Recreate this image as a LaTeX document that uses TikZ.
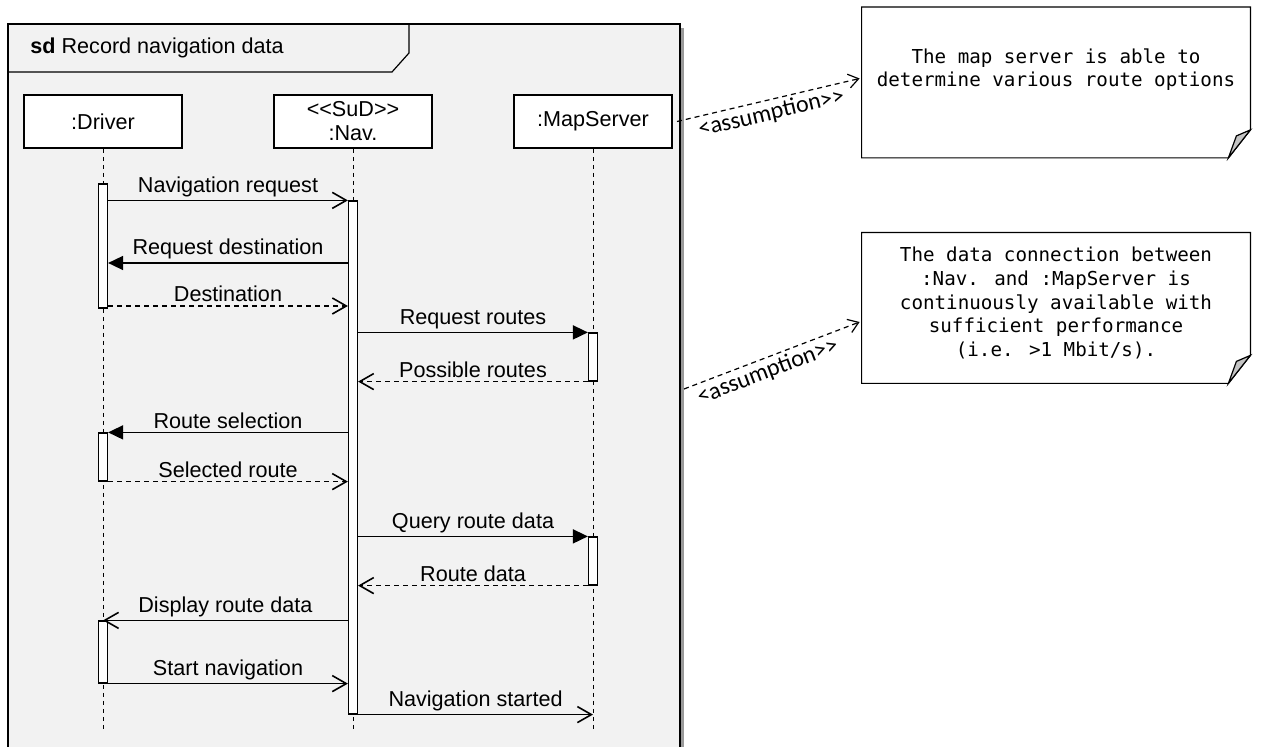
\documentclass[tikz,border=0pt]{standalone}
\usepackage{fontspec}
\setmainfont{Liberation Sans}
\newfontfamily\notefont{DejaVu Sans Mono}
\newfontfamily\stereofont{Carlito}
\usetikzlibrary{positioning, arrows.meta, calc}

\definecolor{framegray}{HTML}{F2F2F2}
\definecolor{foldgray}{HTML}{C4C4C4}
\definecolor{shadowgray}{HTML}{9A9A9A}

\begin{document}
\begin{tikzpicture}[x=0.5pt, y=-0.5pt,
        lifebox/.style={draw=black, line width=1pt, fill=white, minimum width=79pt, minimum height=26.5pt, inner sep=0pt, align=center, font=\fontsize{10.8}{12}\selectfont},
        lifeline/.style={line width=0.5pt, dash pattern=on 2pt off 2pt},
        act/.style={draw=black, line width=0.6pt, fill=white, minimum width=4.5pt, inner sep=0pt},
        msg/.style={line width=0.8pt, -{Straight Barb[length=7pt, width=8pt]}},
        call/.style={line width=0.8pt, -{Triangle[length=7.5pt, width=7pt]}},
        reply/.style={msg, dash pattern=on 2.5pt off 2pt},
        msglabel/.style={midway, above, inner sep=1.5pt, font=\fontsize{10.8}{12}\selectfont},
        notebox/.style={minimum width=194pt, minimum height=75pt, inner sep=0pt},
        notetext/.style={align=center, font=\notefont\fontsize{9.6}{11.8}\selectfont},
        noteline/.style={draw=black, line width=0.6pt, fill=white},
        depend/.style={line width=0.6pt, dash pattern=on 2.5pt off 2pt, -{Straight Barb[length=5pt, width=7pt]}},
        stereo/.style={sloped, below, inner sep=1.5pt, font=\stereofont\fontsize{12}{14}\selectfont}
    ]
    \useasboundingbox (0,0) rectangle (1269,747);

    % Rahmen
    \fill[shadowgray] (12,28) rectangle (684,770);
    \draw[fill=framegray, line width=0.8pt] (8,24) rectangle (680,770);
    \draw[line width=0.6pt] (8,72) -- (392,72) -- (409,53) -- (409,24);
    \node[anchor=west, inner sep=0pt, font=\fontsize{10.8}{12}\selectfont] (title) at (30,48) {\textbf{sd} Record navigation data};

    % Lebenslinien
    \node[lifebox] (drv) at (103,121.5) {:Driver};
    \node[lifebox, right=45pt of drv] (nav) {<{}<SuD>{}>\\:Nav.};
    \node[lifebox, right=40pt of nav] (map) {:MapServer};

    \coordinate (drvEnd) at (drv.south |- 0,732);
    \coordinate (navEnd) at (nav.south |- 0,732);
    \coordinate (mapEnd) at (map.south |- 0,732);
    \draw[lifeline] (drv.south) -- (drvEnd);
    \draw[lifeline] (nav.south) -- (navEnd);
    \draw[lifeline] (map.south) -- (mapEnd);

    % Aktivierungen
    \node[act, minimum height=62pt] (dA1) at (drv.south |- 0,246) {};
    \node[act, minimum height=256.5pt] (nA) at (nav.south |- 0,457.5) {};
    \node[act, minimum height=24pt] (mA1) at (map.south |- 0,357) {};
    \node[act, minimum height=24pt] (dA2) at (drv.south |- 0,457) {};
    \node[act, minimum height=24pt] (mA2) at (map.south |- 0,561) {};
    \node[act, minimum height=31pt] (dA3) at (drv.south |- 0,652) {};

    % Nachrichten
    \draw[msg] (dA1.east |- nA.north) -- (nA.north west) node[msglabel] {Navigation request};
    \draw[call] (nA.west |- 0,263) -- (dA1.east |- 0,263) node[msglabel] {Request destination};
    \draw[reply] (dA1.east |- 0,306) -- (nA.west |- 0,306) node[msglabel] {Destination};
    \draw[call] (nA.east |- mA1.north) -- (mA1.north west) node[msglabel] {Request routes};
    \draw[reply] (mA1.south west) -- (nA.east |- mA1.south) node[msglabel] {Possible routes};
    \draw[call] (nA.west |- dA2.north) -- (dA2.north east) node[msglabel] {Route selection};
    \draw[reply] (dA2.south east) -- (nA.west |- dA2.south) node[msglabel] {Selected route};
    \draw[call] (nA.east |- mA2.north) -- (mA2.north west) node[msglabel] {Query route data};
    \draw[reply] (mA2.south west) -- (nA.east |- mA2.south) node[msglabel] {Route data};
    \draw[msg] (nA.west |- dA3.north) -- (dA3.north) node[msglabel] {Display route data};
    \draw[msg] (dA3.south east) -- (nA.west |- dA3.south) node[msglabel] {Start navigation};
    \draw[msg] (nA.south east) -- (mapEnd |- nA.south) node[msglabel] {Navigation started};

    % Notizen
    \node[notebox] (n1) at (1056,82.5) {};
    \node[notebox] (n2) at (1056,308) {};
    \foreach \n in {n1, n2} {
        \draw[noteline] (\n.north west) -- (\n.north east) -- ($(\n.south east)+(0,-28)$)
            -- ($(\n.south east)+(-22,0)$) -- (\n.south west) -- cycle;
        \filldraw[fill=foldgray, line width=0.6pt] ($(\n.south east)+(0,-28)$) -- ($(\n.south east)+(-22,0)$)
            -- ($(\n.south east)+(-14,-22)$) -- cycle;
    }
    \node[notetext] (t1) at ($(n1.center)+(0,-13)$) {The map server is able to\\determine various route options};
    \node[notetext] (t2) at ($(n2.center)+(0,-5)$) {The data connection between\\:Nav. and :MapServer is\\continuously available with\\sufficient performance\\(i.e. >1 Mbit/s).};

    % Abhaengigkeiten
    \coordinate (fr2) at (684,389);
    \draw[depend] ($(map.east)+(4,0)$) -- ($(n1.west)+(-2,-4)$) node[stereo, pos=0.5] {<assumption>{}>};
    \draw[depend] (fr2) -- ($(n2.west)+(-2,14)$) node[stereo, pos=0.45] {<assumption>{}>};

\end{tikzpicture}
\end{document}
